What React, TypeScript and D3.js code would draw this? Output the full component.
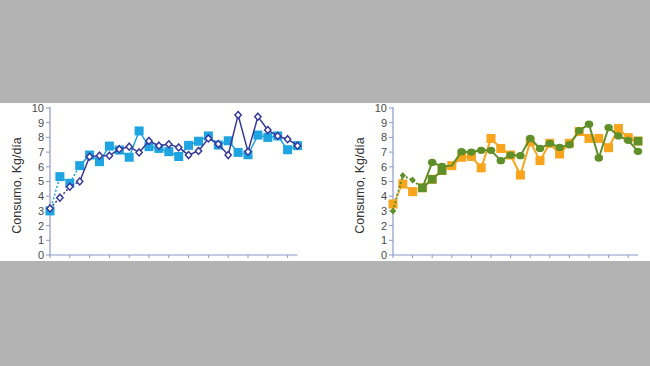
import React from "react";
import * as d3 from "d3";

// semanas de medición (26 puntos por gráfico)
const periods = [1, 2, 3, 4, 5, 6, 7, 8, 9, 10, 11, 12, 13, 14, 15, 16, 17, 18, 19, 20, 21, 22, 23, 24, 25, 26];
const yTicks = [0, 1, 2, 3, 4, 5, 6, 7, 8, 9, 10];
const yTitle = "Consumo, Kg/día";

// gráfico izquierdo
const leftSquares = [3.0, 5.33, 4.88, 6.08, 6.8, 6.35, 7.41, 7.14, 6.65, 8.44, 7.37, 7.25, 7.03, 6.7, 7.46, 7.74, 8.1, 7.48, 7.77, 6.98, 6.82, 8.16, 8.0, 8.1, 7.16, 7.44];
const leftDiamonds = [3.17, 3.9, 4.65, 5.0, 6.69, 6.76, 6.76, 7.2, 7.37, 6.98, 7.76, 7.44, 7.53, 7.32, 6.8, 7.08, 7.93, 7.55, 6.8, 9.52, 7.03, 9.41, 8.5, 8.1, 7.88, 7.44];

// gráfico derecho
const rightOrange = [3.47, 4.83, 4.31, 4.57, 5.15, 5.75, 6.08, 6.65, 6.7, 5.93, 7.93, 7.25, 6.8, 5.44, 7.7, 6.42, 7.6, 6.87, 7.6, 8.4, 7.93, 7.93, 7.3, 8.6, 7.98, 7.75];
const rightGreen = [3.0, 5.4, 5.1, 4.57, 6.3, 6.02, 6.08, 7.03, 7.0, 7.12, 7.12, 6.42, 6.8, 6.76, 7.93, 7.25, 7.6, 7.32, 7.5, 8.46, 8.9, 6.6, 8.67, 8.1, 7.8, 7.05];
const rightGreenMarkers = ["diamond", "diamond", "diamond", "none", "circle", "circle", "none", "circle", "circle", "circle", "circle", "circle", "circle", "circle", "circle", "circle", "circle", "circle", "circle", "circle", "circle", "circle", "circle", "circle", "circle", "circle"];
const rightGreenSquareIdx = [3, 4, 5, 25];
const rightGreenSquareVals = [4.57, 5.15, 5.75, 7.75];

const DOTTED_SEGMENTS = 3;
const AXIS = "#8d98c9";
const TEXT = "#4a4a4a";
const FONT = "'Liberation Sans', Arial, sans-serif";

type Scale = d3.ScaleLinear<number, number>;

function Line({ x, y, values, color, width }: { x: Scale; y: Scale; values: number[]; color: string; width: number }) {
  const line = d3
    .line<number>()
    .x((_, i) => x(i))
    .y((d) => y(d));
  const head = values.slice(0, DOTTED_SEGMENTS + 1);
  const rest = values.slice(DOTTED_SEGMENTS);
  const restLine = d3
    .line<number>()
    .x((_, i) => x(i + DOTTED_SEGMENTS))
    .y((d) => y(d));
  return (
    <g>
      <path d={line(head) || ""} fill="none" stroke={color} strokeWidth={width} strokeDasharray="2 2" />
      <path d={restLine(rest) || ""} fill="none" stroke={color} strokeWidth={width} strokeLinejoin="round" />
    </g>
  );
}

function Marker({ cx, cy, shape, color, fill, size }: { cx: number; cy: number; shape: string; color: string; fill?: string; size: number }) {
  if (shape === "square") {
    return <rect x={cx - size / 2} y={cy - size / 2} width={size} height={size} fill={color} />;
  }
  if (shape === "diamond") {
    const h = size / 2;
    return (
      <path
        d={`M${cx},${cy - h} L${cx + h * 0.9},${cy} L${cx},${cy + h} L${cx - h * 0.9},${cy} Z`}
        fill={fill || color}
        stroke={color}
        strokeWidth={fill ? 1.5 : 0}
      />
    );
  }
  if (shape === "circle") {
    return <ellipse cx={cx} cy={cy} rx={size / 2} ry={size / 2 - 0.6} fill={color} />;
  }
  return null;
}

function Axes({ x, y, titleX }: { x: Scale; y: Scale; titleX: number }) {
  const [x0, x1] = x.range();
  const xTickIdx = periods.map((_, i) => i).filter((i) => i % 2 === 0);
  return (
    <g fontFamily={FONT}>
      <line x1={x0} x2={x0} y1={y(10) - 1} y2={y(0)} stroke={AXIS} strokeWidth={1.2} />
      <line x1={x0} x2={x1} y1={y(0)} y2={y(0)} stroke={AXIS} strokeWidth={1.2} />
      {yTicks.map((t) => (
        <g key={t}>
          <line x1={x0 - 4} x2={x0} y1={y(t)} y2={y(t)} stroke={AXIS} strokeWidth={1} />
          <text x={x0 - 6} y={y(t)} dy="0.36em" textAnchor="end" fontSize={11} fill={TEXT}>
            {t}
          </text>
        </g>
      ))}
      {xTickIdx.map((i) => (
        <line key={i} x1={x(i)} x2={x(i)} y1={y(0)} y2={y(0) + 3} stroke={AXIS} strokeWidth={1} />
      ))}
      <text
        transform={`translate(${titleX},${(y(10) + y(0)) / 2 + 4}) rotate(-90)`}
        textAnchor="middle"
        dy="0.35em"
        fontSize={12.5}
        fill="#333"
      >
        {yTitle}
      </text>
    </g>
  );
}

export default function App() {
  const y = d3.scaleLinear().domain([0, 10]).range([255, 108]);
  const xLeft = d3.scaleLinear().domain([0, periods.length - 1]).range([50, 297.5]);
  const xRight = d3.scaleLinear().domain([0, periods.length - 1]).range([393, 638]);

  const lightBlue = "#1ea4e0";
  const navy = "#37399a";
  const orange = "#f8a41c";
  const green = "#5f8f28";

  return (
    <div style={{ position: "absolute", left: 0, top: 0, width: 650, height: 366 }}>
      <svg width={650} height={366} style={{ display: "block" }}>
        <rect x={0} y={0} width={650} height={366} fill="#b3b3b3" />
        <rect x={0} y={103} width={650} height={158} fill="#ffffff" />

        {/* izquierdo */}
        <Axes x={xLeft} y={y} titleX={17} />
        <Line x={xLeft} y={y} values={leftSquares} color={lightBlue} width={1.5} />
        {leftSquares.map((v, i) => (
          <Marker key={"s" + i} cx={xLeft(i)} cy={y(v)} shape="square" color={lightBlue} size={9} />
        ))}
        <Line x={xLeft} y={y} values={leftDiamonds} color={navy} width={1.5} />
        {leftDiamonds.map((v, i) => (
          <Marker key={"d" + i} cx={xLeft(i)} cy={y(v)} shape="diamond" color={navy} fill="#fff" size={7} />
        ))}

        {/* derecho */}
        <Axes x={xRight} y={y} titleX={360} />
        <Line x={xRight} y={y} values={rightOrange} color={orange} width={2} />
        {rightOrange.map((v, i) => (
          <Marker key={"o" + i} cx={xRight(i)} cy={y(v)} shape="square" color={orange} size={9} />
        ))}
        <Line x={xRight} y={y} values={rightGreen} color={green} width={2} />
        {rightGreen.map((v, i) => (
          <Marker key={"g" + i} cx={xRight(i)} cy={y(v)} shape={rightGreenMarkers[i]} color={green} size={rightGreenMarkers[i] === "diamond" ? 7 : 8.5} />
        ))}
        <path
          d={
            d3
              .line<number>()
              .x((_, k) => xRight(rightGreenSquareIdx[k]))
              .y((d) => y(d))(rightGreenSquareVals.slice(0, 3)) || ""
          }
          fill="none"
          stroke={green}
          strokeWidth={2}
        />
        {rightGreenSquareVals.map((v, k) => (
          <Marker key={"gs" + k} cx={xRight(rightGreenSquareIdx[k])} cy={y(v)} shape="square" color={green} size={8.5} />
        ))}
      </svg>
    </div>
  );
}
